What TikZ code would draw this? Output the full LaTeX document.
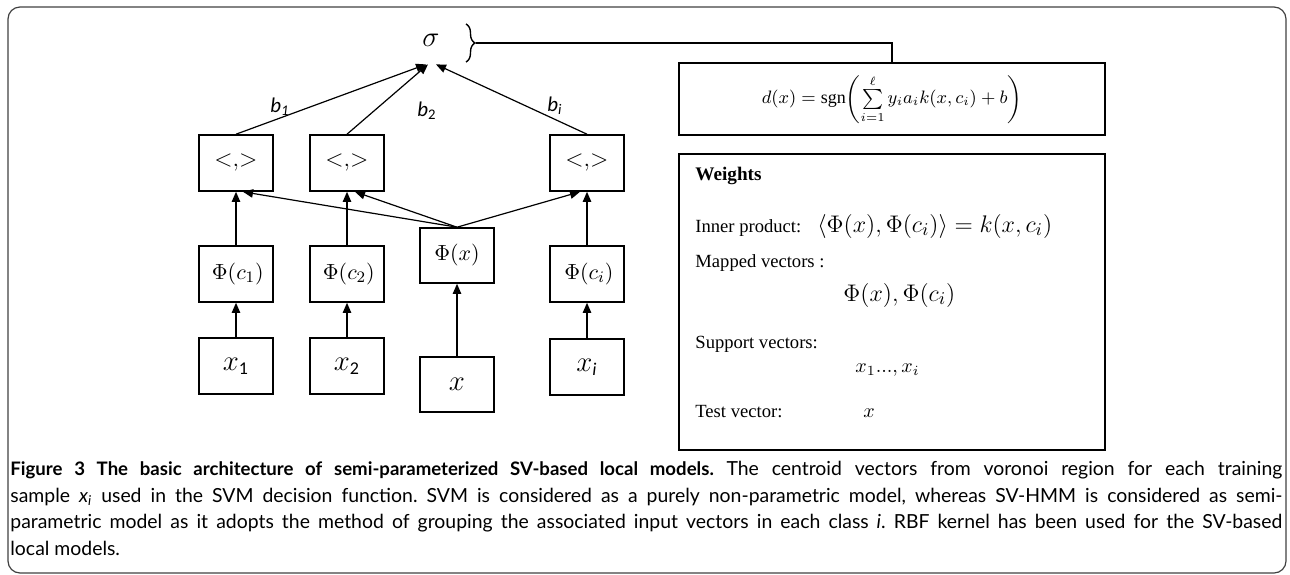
\documentclass[tikz,border=0pt]{standalone}
\usepackage{fontspec}
\setmainfont{Liberation Serif}
\setsansfont{Carlito}
\newfontfamily\capfont{Lato}
\usetikzlibrary{arrows.meta,decorations.pathreplacing}

\begin{document}
\begin{tikzpicture}[x=0.5pt,y=0.5pt,yscale=-1,
  unit/.style={draw, line width=0.8pt, minimum width=37pt, minimum height=28pt, inner sep=0pt},
  panel/.style={draw, line width=1.2pt, minimum width=213pt, inner sep=0pt},
  conn/.style={-{Triangle[length=5pt,width=4.2pt]}, line width=0.6pt},
  blab/.style={font=\sffamily\itshape\fontsize{10.5}{12}\selectfont, inner sep=0pt},
  wtext/.style={anchor=base west, inner sep=0pt, font=\fontsize{9.3}{11}\selectfont}]
\useasboundingbox (0,0) rectangle (1290,574);

%Shape: Rounded frame
\draw [line width=0.6pt, color=black!75, rounded corners=6pt] (8,7) rectangle (1286,573);

% Text Node
\node [inner sep=0pt, minimum height=24pt, font=\fontsize{15}{18}\selectfont] (sigma) at (431,40) {$\sigma$};
%Shape: Brace
\draw [line width=0.7pt, decorate, decoration={brace, amplitude=4.5pt}] (466,24) -- (466,62);
\coordinate (btip) at (476,43);

%Shape: Rectangle (inner products)
\node [unit, font=\fontsize{13}{15}\selectfont] (ip1) at (236,163) {${<}{,}{>}$};
\node [unit, font=\fontsize{13}{15}\selectfont] (ip2) at (347,163) {${<}{,}{>}$};
\node [unit, font=\fontsize{13}{15}\selectfont] (ipi) at (587,163) {${<}{,}{>}$};
%Shape: Rectangle (mapped vectors)
\node [unit, font=\fontsize{11}{13}\selectfont] (phc1) at (236,274) {\,$\Phi(c_1)$};
\node [unit, font=\fontsize{11}{13}\selectfont] (phc2) at (347,274) {\,$\Phi(c_2)$};
\node [unit, font=\fontsize{11}{13}\selectfont] (phci) at (587,274) {\,$\Phi(c_i)$};
\node [unit, minimum height=27.5pt, font=\fontsize{11}{13}\selectfont] (phx) at (457,255.5) {$\Phi(x)$};
%Shape: Rectangle (inputs)
\node [unit, font=\fontsize{13.5}{16}\selectfont] (x1) at (236,366) {$x_{\textsf{\small 1}}$};
\node [unit, font=\fontsize{13.5}{16}\selectfont] (x2) at (347,366) {$x_{\textsf{\small 2}}$};
\node [unit, font=\fontsize{13.5}{16}\selectfont] (xi) at (587,367) {$x_{\textsf{\small\itshape i}}$};
\node [unit, minimum height=27.5pt, font=\fontsize{13.5}{16}\selectfont] (xin) at (457,384.5) {$x$};

%Straight Lines
\draw [conn] (x1) -- (phc1);
\draw [conn] (x2) -- (phc2);
\draw [conn] (xi) -- (phci);
\draw [conn] (xin) -- (phx);
\draw [conn] (phc1) -- (ip1);
\draw [conn] (phc2) -- (ip2);
\draw [conn] (phci) -- (ipi);
\draw [conn] (phx.north) -- ([xshift=3.5pt]ip1.south);
\draw [conn] (phx.north) -- ([xshift=4pt]ip2.south);
\draw [conn] (phx.north) -- ([xshift=-3.5pt]ipi.south);
\draw [conn] (ip1.north) -- ([xshift=-2.5pt]sigma.south);
\draw [conn] (ip2.north) -- ([xshift=-1.5pt]sigma.south);
\draw [conn] (ipi.north) -- ([xshift=2.5pt]sigma.south);

% Text Node
\node [blab] (lb1) at (280,107) {b\textsubscript{1}};
\node [blab] (lb2) at (427,111) {b\textsubscript{\upshape 2}};
\node [blab] (lbi) at (555,106) {b\textsubscript{i}};

%Shape: Rectangle (decision function)
\node [panel, minimum height=36pt, font=\fontsize{9}{11}\selectfont] (fbox) at (892,99)
  {$d(x)=\mathrm{sgn}\biggl(\sum\limits_{i=1}^{\ell}y_i a_i k(x,c_i)+b\biggr)$};
%Straight Lines
\draw [line width=1pt] (btip) -| (fbox.north);

%Shape: Rectangle (weights)
\node [panel, minimum height=148pt] (wbox) at (892,302) {};
% Text Node
\node [wtext, font=\bfseries\fontsize{9.6}{11}\selectfont] (wt) at (695,180) {Weights};
\node [wtext] (t1) at (695,232) {Inner product:};
\node [wtext, font=\fontsize{12.5}{14}\selectfont] (f1) at (817,232) {$\bigl\langle\Phi(x),\Phi(c_i)\bigr\rangle=k\bigl(x,c_i\bigr)$};
\node [wtext] (t2) at (695,267) {Mapped vectors :};
\node [wtext, font=\fontsize{12.3}{14}\selectfont] (f2) at (843,301) {$\Phi(x),\Phi(c_i)$};
\node [wtext] (t3) at (695,348) {Support vectors:};
\node [wtext, font=\fontsize{10}{12}\selectfont] (f3) at (855,372) {$x_1...,x_i$};
\node [wtext] (t4) at (695,417) {Test vector:};
\node [wtext, font=\fontsize{10}{12}\selectfont] (f4) at (863,417) {$x$};

% Text Node (caption)
\node [anchor=north west, inner sep=0pt, text width=636pt, align=justify,
  font=\capfont\fontsize{9.7}{13.3}\selectfont] (cap) at (10,461)
  {\hyphenpenalty10000\relax\frenchspacing
  \textbf{\fontsize{9.3}{13.3}\selectfont Figure 3 The basic architecture of semi-parameterized SV-based local models.} The centroid vectors from voronoi region for each training\linebreak
  sample \textit{x}\textsubscript{\textit{i}} used in the SVM decision function. SVM is considered as a purely non-parametric model, whereas SV-HMM is considered as semi-\linebreak
  parametric model as it adopts the method of grouping the associated input vectors in each class \textit{i}. RBF kernel has been used for the SV-based\linebreak
  local models.};
\end{tikzpicture}
\end{document}
